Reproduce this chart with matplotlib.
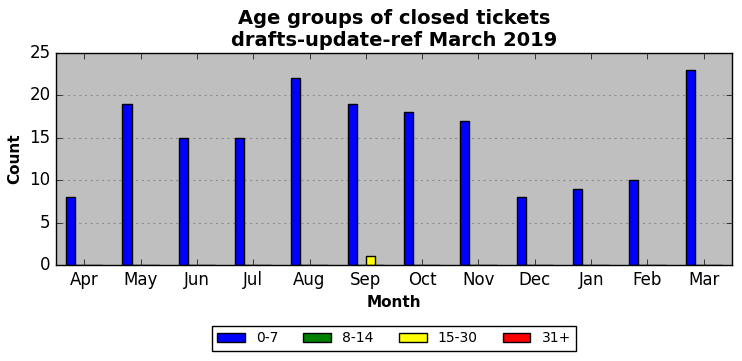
import matplotlib
matplotlib.use("Agg")
import matplotlib.pyplot as plt
import numpy as np

plt.style.use("classic")
plt.rcParams["lines.scale_dashes"] = False

months = ["Apr", "May", "Jun", "Jul", "Aug", "Sep", "Oct", "Nov", "Dec", "Jan", "Feb", "Mar"]
series_names = ["0-7", "8-14", "15-30", "31+"]
v_0_7 = [8, 19, 15, 15, 22, 19, 18, 17, 8, 9, 10, 23]
v_8_14 = [0, 0, 0, 0, 0, 0, 0, 0, 0, 0, 0, 0]
v_15_30 = [0, 0, 0, 0, 0, 1, 0, 0, 0, 0, 0, 0]
v_31 = [0, 0, 0, 0, 0, 0, 0, 0, 0, 0, 0, 0]
colors = ["blue", "green", "yellow", "red"]

fig = plt.figure(figsize=(7.42, 3.61), dpi=100, facecolor="white")
ax = fig.add_axes([0.0755, 0.266, 0.911, 0.587])
ax.set_facecolor("#bfbfbf")

x = np.arange(len(months))
w = 0.16
for i, (vals, name, c) in enumerate(zip([v_0_7, v_8_14, v_15_30, v_31], series_names, colors)):
    ax.bar(x + (i - 2) * w, vals, width=w, align="edge", color=c, edgecolor="black", label=name)

ax.set_xlim(-0.5, len(months) - 0.5)
ax.set_ylim(0, 25)
ax.set_xticks(x)
ax.set_xticklabels(months, fontsize=12)
ax.set_yticks([0, 5, 10, 15, 20, 25])
ax.tick_params(axis="y", labelsize=12)
ax.yaxis.grid(True, linestyle=(0, (1.5, 2.6)), color="#8c8c8c", linewidth=0.8)
ax.set_axisbelow(True)
ax.set_xlabel("Month", fontsize=11, fontweight="bold")
ax.set_ylabel("Count", fontsize=11, fontweight="bold")
ax.set_title("Age groups of closed tickets\ndrafts-update-ref March 2019", fontsize=14, fontweight="bold")

fig.legend(loc="center", bbox_to_anchor=(0.531, 0.063), ncol=4, fontsize=10, frameon=True,
           columnspacing=1.8)

fig.savefig("out.png", dpi=100, facecolor="white")
